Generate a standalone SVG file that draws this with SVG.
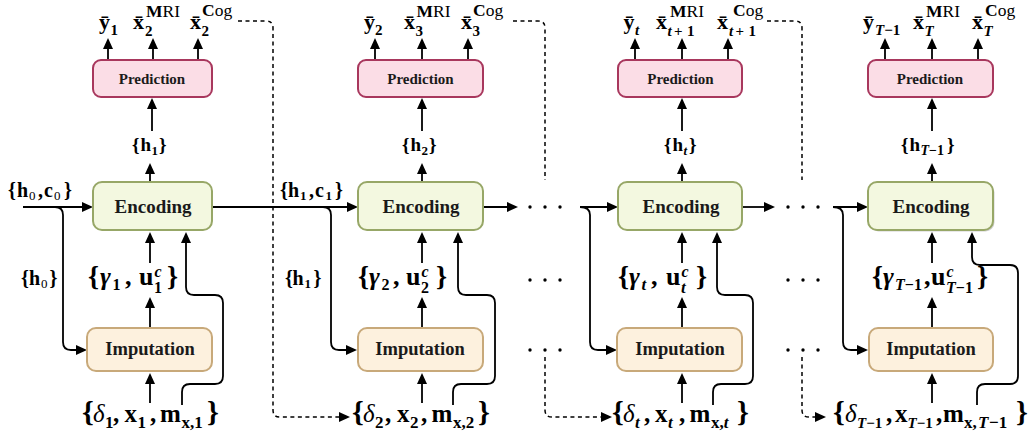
<svg xmlns="http://www.w3.org/2000/svg" width="1029" height="442" viewBox="0 0 1029 442">
<defs>
<marker id="ah" markerWidth="12" markerHeight="10" refX="9" refY="5" orient="auto" markerUnits="userSpaceOnUse"><path d="M0,0 L11,5 L0,10 z" fill="#000" stroke="none"/></marker>
</defs>
<rect width="1029" height="442" fill="#fff"/>

<g id="connectors" fill="none" stroke="#000" stroke-width="1.8" marker-end="url(#ah)">
<path d="M108,60 V40"/><path d="M153,60 V40"/><path d="M198,60 V40"/>
<path d="M152,131 V100"/>
<path d="M150,182 V165"/>
<path d="M23,207 H91"/>
<path d="M55,207 Q63,207 63,215 V342 Q63,350 71,350 H85"/>
<path d="M150,263 V234"/>
<path d="M150,328 V299"/>
<path d="M150,403 V375"/>
<path d="M182,405 V392 Q182,384 190,384 H215 Q223,384 223,376 V303 Q223,295 215,295 H194 Q186,295 186,287 V234"/>
<path d="M212,207 H356"/>
<path d="M323,207 Q331,207 331,215 V342 Q331,350 339,350 H355"/>
<path d="M238,21 H266 Q273,21 273,28 V410 Q273,417 280,417 H348" stroke-width="1.5" stroke-dasharray="4 3.5"/>
<path d="M375,60 V40"/><path d="M422,60 V40"/><path d="M468,60 V40"/>
<path d="M422,131 V100"/>
<path d="M422,182 V165"/>
<path d="M422,263 V234"/>
<path d="M422,328 V299"/>
<path d="M422,403 V375"/>
<path d="M453,405 V392 Q453,384 461,384 H487 Q495,384 495,376 V303 Q495,295 487,295 H466 Q458,295 458,287 V234"/>
<path d="M483,207 H516"/>
<path d="M513,21 H538 Q545,21 545,28 V180" stroke-width="1.5" stroke-dasharray="4 3.5" marker-end="none"/>
<path d="M545,357 V410 Q545,417 552,417 H610" stroke-width="1.5" stroke-dasharray="4 3.5"/>
<path d="M635,60 V40"/><path d="M682,60 V40"/><path d="M728,60 V40"/>
<path d="M682,131 V100"/>
<path d="M682,182 V165"/>
<path d="M580,207 H616"/>
<path d="M580,207 Q590,207 590,215 V342 Q590,350 598,350 H615"/>
<path d="M682,263 V234"/>
<path d="M682,328 V299"/>
<path d="M682,403 V375"/>
<path d="M713,405 V392 Q713,384 721,384 H745 Q753,384 753,376 V303 Q753,295 745,295 H725 Q717,295 717,287 V234"/>
<path d="M742,207 H773"/>
<path d="M767,21 H795 Q802,21 802,28 V180" stroke-width="1.5" stroke-dasharray="4 3.5" marker-end="none"/>
<path d="M802,357 V410 Q802,417 809,417 H824" stroke-width="1.5" stroke-dasharray="4 3.5"/>
<path d="M885,60 V40"/><path d="M932,60 V40"/><path d="M978,60 V40"/>
<path d="M932,131 V100"/>
<path d="M932,182 V165"/>
<path d="M833,207 H866"/>
<path d="M833,207 Q843,207 843,215 V342 Q843,350 851,350 H866"/>
<path d="M932,263 V234"/>
<path d="M932,328 V299"/>
<path d="M932,403 V375"/>
<path d="M977,405 V392 Q977,384 985,384 H1010 Q1018,384 1018,376 V273 Q1018,265 1010,265 H980 Q972,265 972,257 V234"/>
<g fill="#000" stroke="none">
<circle cx="530" cy="207" r="1.7"/><circle cx="545" cy="207" r="1.7"/><circle cx="560" cy="207" r="1.7"/>
<circle cx="530" cy="280" r="1.7"/><circle cx="545" cy="280" r="1.7"/><circle cx="560" cy="280" r="1.7"/>
<circle cx="530" cy="350" r="1.7"/><circle cx="545" cy="350" r="1.7"/><circle cx="560" cy="350" r="1.7"/>
<circle cx="788" cy="207" r="1.7"/><circle cx="803" cy="207" r="1.7"/><circle cx="818" cy="207" r="1.7"/>
<circle cx="788" cy="280" r="1.7"/><circle cx="803" cy="280" r="1.7"/><circle cx="818" cy="280" r="1.7"/>
<circle cx="788" cy="350" r="1.7"/><circle cx="803" cy="350" r="1.7"/><circle cx="818" cy="350" r="1.7"/>
</g>
</g>

<g id="prediction-boxes" fill="#fbdde6" stroke="#a8375d" stroke-width="2">
<g id="pred1"><rect x="93" y="60" width="119" height="37" rx="8"/><text font-family="Liberation Serif" font-weight="bold" font-size="15" text-anchor="middle" fill="#1a1a1a" stroke="none" x="152" y="84">Prediction</text></g>
<g id="pred2"><rect x="358" y="60" width="125" height="37" rx="8"/><text font-family="Liberation Serif" font-weight="bold" font-size="15" text-anchor="middle" fill="#1a1a1a" stroke="none" x="420.5" y="84">Prediction</text></g>
<g id="pred3"><rect x="618" y="60" width="124" height="37" rx="8"/><text font-family="Liberation Serif" font-weight="bold" font-size="15" text-anchor="middle" fill="#1a1a1a" stroke="none" x="680.5" y="84">Prediction</text></g>
<g id="pred4"><rect x="868" y="60" width="125" height="37" rx="8"/><text font-family="Liberation Serif" font-weight="bold" font-size="15" text-anchor="middle" fill="#1a1a1a" stroke="none" x="930" y="84">Prediction</text></g>
</g>

<g id="encoding-boxes" fill="#f3f8e0" stroke="#97a767" stroke-width="2">
<g id="enc1"><rect x="93" y="182" width="119" height="48" rx="9"/><text font-family="Liberation Serif" font-weight="bold" font-size="19" text-anchor="middle" fill="#1a1a1a" stroke="none" x="153" y="213">Encoding</text></g>
<g id="enc2"><rect x="358" y="182" width="125" height="48" rx="9"/><text font-family="Liberation Serif" font-weight="bold" font-size="19" text-anchor="middle" fill="#1a1a1a" stroke="none" x="421" y="213">Encoding</text></g>
<g id="enc3"><rect x="618" y="182" width="124" height="48" rx="9"/><text font-family="Liberation Serif" font-weight="bold" font-size="19" text-anchor="middle" fill="#1a1a1a" stroke="none" x="681" y="213">Encoding</text></g>
<g id="enc4"><rect x="869.5" y="183.5" width="125" height="48" rx="9" fill="#000" fill-opacity="0.18" stroke="none"/><rect x="868" y="182" width="125" height="48" rx="9"/><text font-family="Liberation Serif" font-weight="bold" font-size="19" text-anchor="middle" fill="#1a1a1a" stroke="none" x="931" y="213">Encoding</text></g>
</g>

<g id="imputation-boxes" fill="#fdf1de" stroke="#c8a97a" stroke-width="2">
<g id="imp1"><rect x="87" y="328" width="125" height="43" rx="9"/><text font-family="Liberation Serif" font-weight="bold" font-size="18.5" text-anchor="middle" fill="#1a1a1a" stroke="none" x="150" y="355">Imputation</text></g>
<g id="imp2"><rect x="358" y="328" width="125" height="43" rx="9"/><text font-family="Liberation Serif" font-weight="bold" font-size="18.5" text-anchor="middle" fill="#1a1a1a" stroke="none" x="420" y="355">Imputation</text></g>
<g id="imp3"><rect x="617" y="328" width="125" height="43" rx="9"/><text font-family="Liberation Serif" font-weight="bold" font-size="18.5" text-anchor="middle" fill="#1a1a1a" stroke="none" x="680" y="355">Imputation</text></g>
<g id="imp4"><rect x="869" y="328" width="124" height="43" rx="9"/><text font-family="Liberation Serif" font-weight="bold" font-size="18.5" text-anchor="middle" fill="#1a1a1a" stroke="none" x="931" y="355">Imputation</text></g>
</g>

<g id="labels-top" fill="#000">
<text font-family="Liberation Serif" font-weight="bold" font-size="22"><tspan x="99" y="29">y&#x304;</tspan><tspan x="110.5" y="35" font-size="15">1</tspan><tspan x="133" y="29">x&#x304;</tspan><tspan x="145" y="36" font-size="15">2</tspan><tspan x="146" y="17" font-size="17.5">M</tspan><tspan font-weight="normal" font-size="17.5">RI</tspan><tspan x="190" y="29">x&#x304;</tspan><tspan x="201.5" y="36" font-size="15">2</tspan><tspan x="202" y="16" font-size="17.5">C</tspan><tspan font-weight="normal" font-size="17.5">og</tspan></text>
<text font-family="Liberation Serif" font-weight="bold" font-size="22"><tspan x="364" y="29">y&#x304;</tspan><tspan x="375" y="35" font-size="15">2</tspan><tspan x="404" y="29">x&#x304;</tspan><tspan x="415.5" y="36" font-size="15">3</tspan><tspan x="416.5" y="17" font-size="17.5">M</tspan><tspan font-weight="normal" font-size="17.5">RI</tspan><tspan x="461" y="29">x&#x304;</tspan><tspan x="472.5" y="36" font-size="15">3</tspan><tspan x="473" y="16" font-size="17.5">C</tspan><tspan font-weight="normal" font-size="17.5">og</tspan></text>
<text font-family="Liberation Serif" font-weight="bold" font-size="22"><tspan x="623.5" y="29">y&#x304;</tspan><tspan x="635" y="35" font-size="15" font-style="italic">t</tspan><tspan x="656" y="29">x&#x304;</tspan><tspan x="667.5" y="36" font-size="15" font-style="italic">t</tspan><tspan x="674" y="36" font-size="15">+</tspan><tspan x="687" y="36" font-size="15">1</tspan><tspan x="670" y="17" font-size="17.5">M</tspan><tspan font-weight="normal" font-size="17.5">RI</tspan><tspan x="717" y="29">x&#x304;</tspan><tspan x="729" y="36" font-size="15" font-style="italic">t</tspan><tspan x="735.5" y="36" font-size="15">+</tspan><tspan x="748.5" y="36" font-size="15">1</tspan><tspan x="733" y="16" font-size="17.5">C</tspan><tspan font-weight="normal" font-size="17.5">og</tspan></text>
<text font-family="Liberation Serif" font-weight="bold" font-size="22"><tspan x="863" y="29">y&#x304;</tspan><tspan x="875" y="35" font-size="15"><tspan font-style="italic">T</tspan>&#x2212;1</tspan><tspan x="913" y="29">x&#x304;</tspan><tspan x="924.5" y="36" font-size="15" font-style="italic">T</tspan><tspan x="926" y="17" font-size="17.5">M</tspan><tspan font-weight="normal" font-size="17.5">RI</tspan><tspan x="972" y="29">x&#x304;</tspan><tspan x="983.5" y="36" font-size="15" font-style="italic">T</tspan><tspan x="985" y="16" font-size="17.5">C</tspan><tspan font-weight="normal" font-size="17.5">og</tspan></text>
</g>

<g id="labels-h" fill="#000">
<text font-family="Liberation Serif" font-weight="bold" font-size="19"><tspan x="132" y="151">{</tspan><tspan x="140.5" y="151">h</tspan><tspan x="151.5" y="155" font-size="13">1</tspan><tspan x="159" y="151">}</tspan></text>
<text font-family="Liberation Serif" font-weight="bold" font-size="19"><tspan x="402" y="151">{</tspan><tspan x="410.5" y="151">h</tspan><tspan x="421.5" y="155" font-size="13">2</tspan><tspan x="429" y="151">}</tspan></text>
<text font-family="Liberation Serif" font-weight="bold" font-size="19"><tspan x="664" y="151">{</tspan><tspan x="672.5" y="151">h</tspan><tspan x="683.5" y="155" font-size="13" font-style="italic">t</tspan><tspan x="689" y="151">}</tspan></text>
<text font-family="Liberation Serif" font-weight="bold" font-size="19"><tspan x="901" y="151">{</tspan><tspan x="909.5" y="151">h</tspan><tspan x="920.5" y="155" font-size="14"><tspan font-style="italic">T</tspan>&#x2212;1</tspan><tspan x="947" y="151">}</tspan></text>
<text font-family="Liberation Serif" font-weight="bold" font-size="20"><tspan x="8" y="197">{</tspan><tspan x="17" y="197">h</tspan><tspan x="29" y="200" font-size="13" font-weight="normal">0</tspan><tspan x="38" y="197">,</tspan><tspan x="44" y="197">c</tspan><tspan x="54" y="200" font-size="13" font-weight="normal">0</tspan><tspan x="64" y="197">}</tspan></text>
<text font-family="Liberation Serif" font-weight="bold" font-size="20"><tspan x="280" y="197">{</tspan><tspan x="288" y="197">h</tspan><tspan x="300" y="200" font-size="13">1</tspan><tspan x="309" y="197">,</tspan><tspan x="315" y="197">c</tspan><tspan x="325.5" y="200" font-size="13">1</tspan><tspan x="335" y="197">}</tspan></text>
<text font-family="Liberation Serif" font-weight="bold" font-size="20"><tspan x="21" y="285">{</tspan><tspan x="29" y="285">h</tspan><tspan x="41" y="288" font-size="13" font-weight="normal">0</tspan><tspan x="49.5" y="285">}</tspan></text>
<text font-family="Liberation Serif" font-weight="bold" font-size="20"><tspan x="285" y="285">{</tspan><tspan x="292.5" y="285">h</tspan><tspan x="304.5" y="288" font-size="13">1</tspan><tspan x="313.5" y="285">}</tspan></text>
</g>

<g id="labels-gamma" fill="#000">
<text font-family="Liberation Serif" font-weight="bold" font-size="26"><tspan x="88" y="285" font-size="28">{</tspan><tspan x="100" y="285" font-style="italic">γ</tspan><tspan x="112.5" y="290" font-size="16">1</tspan><tspan x="125" y="285">,</tspan><tspan x="139" y="285">u</tspan><tspan x="154.5" y="277" font-size="16" font-style="italic">c</tspan><tspan x="154" y="293" font-size="16">1</tspan><tspan x="167" y="285" font-size="28">}</tspan></text>
<text font-family="Liberation Serif" font-weight="bold" font-size="26"><tspan x="358" y="285" font-size="28">{</tspan><tspan x="369" y="285" font-style="italic">γ</tspan><tspan x="381.5" y="290" font-size="16">2</tspan><tspan x="393" y="285">,</tspan><tspan x="406" y="285">u</tspan><tspan x="421.5" y="277" font-size="16" font-style="italic">c</tspan><tspan x="421" y="293" font-size="16">2</tspan><tspan x="436" y="285" font-size="28">}</tspan></text>
<text font-family="Liberation Serif" font-weight="bold" font-size="26"><tspan x="618" y="285" font-size="28">{</tspan><tspan x="629" y="285" font-style="italic">γ</tspan><tspan x="641.5" y="290" font-size="17" font-style="italic">t</tspan><tspan x="651" y="285">,</tspan><tspan x="666" y="285">u</tspan><tspan x="681.5" y="277" font-size="16" font-style="italic">c</tspan><tspan x="681" y="293" font-size="17" font-style="italic">t</tspan><tspan x="696" y="285" font-size="28">}</tspan></text>
<text font-family="Liberation Serif" font-weight="bold" font-size="26"><tspan x="872" y="285" font-size="28">{</tspan><tspan x="883" y="285" font-style="italic">γ</tspan><tspan x="895" y="290" font-size="16"><tspan font-style="italic">T</tspan>&#x2212;1</tspan><tspan x="924" y="285">,</tspan><tspan x="931" y="285">u</tspan><tspan x="946.5" y="277" font-size="16" font-style="italic">c</tspan><tspan x="946" y="293" font-size="16"><tspan font-style="italic">T</tspan>&#x2212;1</tspan><tspan x="977" y="285" font-size="28">}</tspan></text>
</g>

<g id="labels-delta" fill="#000">
<text font-family="Liberation Serif" font-weight="bold" font-size="25"><tspan x="82" y="422" font-size="30">{</tspan><tspan x="93" y="422" font-style="italic" font-weight="normal">δ</tspan><tspan x="105" y="428" font-size="17">1</tspan><tspan x="113" y="422">,</tspan><tspan x="124.5" y="422">x</tspan><tspan x="137.5" y="428" font-size="17">1</tspan><tspan x="150" y="422">,</tspan><tspan x="160" y="422">m</tspan><tspan x="181.5" y="428" font-size="17">x,1</tspan><tspan x="207" y="422" font-size="30">}</tspan></text>
<text font-family="Liberation Serif" font-weight="bold" font-size="25"><tspan x="352" y="422" font-size="30">{</tspan><tspan x="363" y="422" font-style="italic" font-weight="normal">δ</tspan><tspan x="375" y="428" font-size="17">2</tspan><tspan x="385" y="422">,</tspan><tspan x="397" y="422">x</tspan><tspan x="410" y="428" font-size="17">2</tspan><tspan x="421" y="422">,</tspan><tspan x="431.5" y="422">m</tspan><tspan x="453" y="428" font-size="17">x,2</tspan><tspan x="478" y="422" font-size="30">}</tspan></text>
<text font-family="Liberation Serif" font-weight="bold" font-size="25"><tspan x="612" y="422" font-size="30">{</tspan><tspan x="623" y="422" font-style="italic" font-weight="normal">δ</tspan><tspan x="635" y="428" font-size="17" font-style="italic">t</tspan><tspan x="644" y="422">,</tspan><tspan x="655" y="422">x</tspan><tspan x="668" y="428" font-size="17" font-style="italic">t</tspan><tspan x="679" y="422">,</tspan><tspan x="689.5" y="422">m</tspan><tspan x="711" y="428" font-size="17">x,<tspan font-style="italic">t</tspan></tspan><tspan x="737" y="422" font-size="30">}</tspan></text>
<text font-family="Liberation Serif" font-weight="bold" font-size="25"><tspan x="833" y="422" font-size="30">{</tspan><tspan x="845" y="422" font-style="italic" font-weight="normal">δ</tspan><tspan x="857" y="428" font-size="15"><tspan font-style="italic">T</tspan>&#x2212;1</tspan><tspan x="886" y="422">,</tspan><tspan x="895" y="422">x</tspan><tspan x="907.5" y="428" font-size="15"><tspan font-style="italic">T</tspan>&#x2212;1</tspan><tspan x="936" y="422">,</tspan><tspan x="943" y="422">m</tspan><tspan x="964" y="428" font-size="17">x,</tspan><tspan x="978" y="428" font-size="17" font-style="italic">T</tspan><tspan x="989" y="428" font-size="17">&#x2212;1</tspan><tspan x="1016" y="422" font-size="30">}</tspan></text>
</g>
</svg>
